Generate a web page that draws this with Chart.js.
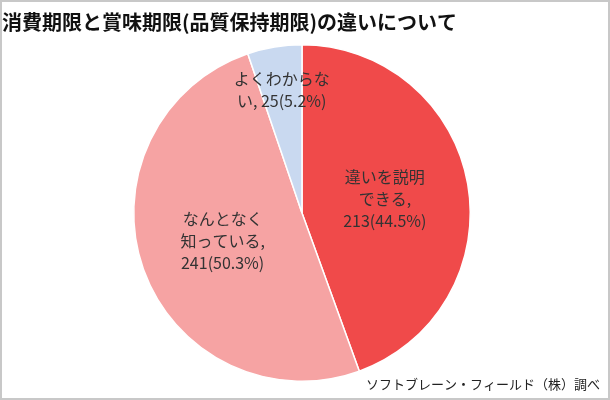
<!DOCTYPE html>
<html><head><meta charset="utf-8">
<script src="https://cdn.jsdelivr.net/npm/chart.js@4"></script>
<style>body{margin:0;background:#fff}#w{width:606px;height:396px;border:2px solid #c8c8c8;box-sizing:content-box;position:relative}</style>
</head><body><div id="w"><canvas id="c" width="606" height="396"></canvas></div>
<script>
const categories=["違いを説明できる","なんとなく知っている","よくわからない"];
const counts=[213,241,25];
const percents=[44.5,50.3,5.2];
const labelLines=[["違いを説明","できる,","213(44.5%)"],["なんとなく","知っている,","241(50.3%)"],["よくわからな","い, 25(5.2%)"]];
const colors=["#f04a4a","#f6a3a3","#c9d9f0"];
const radFactor=[0.5,0.5,0.74];
const font='"Noto Sans CJK JP", sans-serif';
const labelPlugin={id:'lbl',afterDatasetsDraw(chart){
 const ctx=chart.ctx;const meta=chart.getDatasetMeta(0);
 ctx.save();ctx.font='16px '+font;ctx.fillStyle='#333';ctx.textAlign='center';ctx.textBaseline='middle';
 meta.data.forEach((a,i)=>{const m=(a.startAngle+a.endAngle)/2;const r=a.outerRadius*radFactor[i];
  const x=a.x+Math.cos(m)*r,y=a.y+Math.sin(m)*r;const L=labelLines[i];
  L.forEach((t,j)=>ctx.fillText(t,x,y+(j-(L.length-1)/2)*22));});
 ctx.font='13px '+font;ctx.textAlign='right';ctx.fillStyle='#222';
 ctx.fillText('ソフトブレーン・フィールド（株）調べ',598,382);
 ctx.restore();}};
new Chart(document.getElementById('c'),{type:'pie',
 data:{labels:categories,datasets:[{data:counts,backgroundColor:colors,borderColor:'#fff',borderWidth:1.5}]},
 options:{responsive:false,animation:false,
  layout:{padding:{top:8,bottom:16,left:0,right:6}},
  plugins:{legend:{display:false},tooltip:{enabled:false},
   title:{display:true,text:'消費期限と賞味期限(品質保持期限)の違いについて',align:'start',color:'#111',
    font:{family:font,size:20,weight:'bold'},padding:{top:0,bottom:10}}}},
 plugins:[labelPlugin]});
</script></body></html>
